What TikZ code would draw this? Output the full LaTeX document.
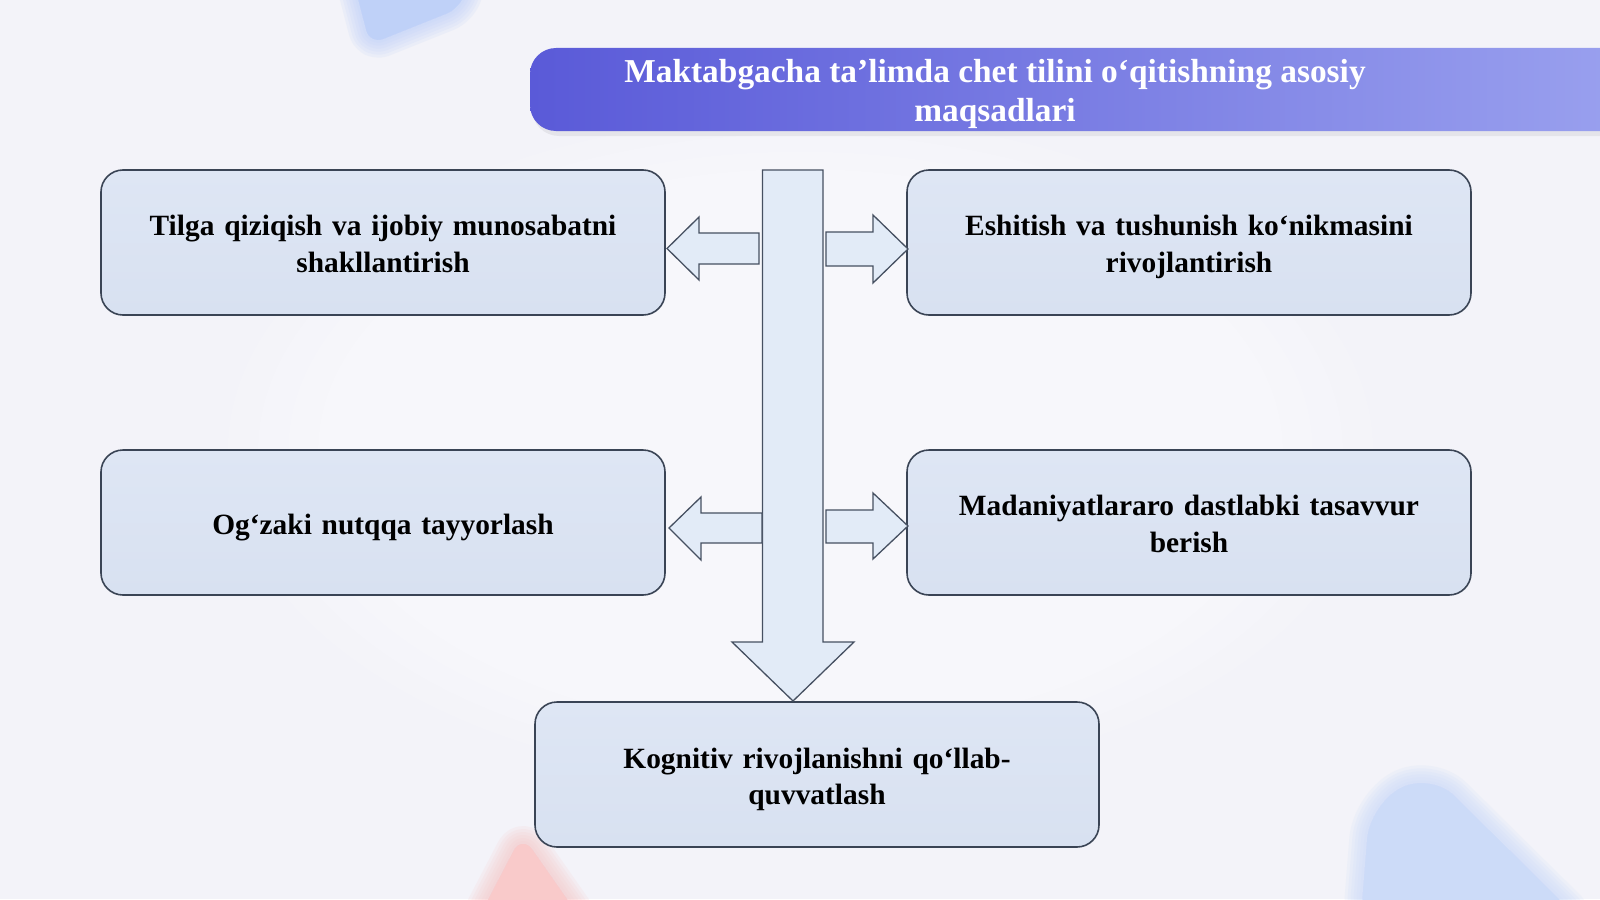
\documentclass[tikz,border=0pt]{standalone}
\usepackage{fontspec}
\setmainfont{Liberation Serif}
\usetikzlibrary{fadings}
\definecolor{bg}{HTML}{F3F3F9}
\definecolor{bgmid}{HTML}{F7F7FB}
\definecolor{titleL}{HTML}{5A5AD8}
\definecolor{titleR}{HTML}{9BA2EF}
\definecolor{boxtop}{HTML}{DEE6F4}
\definecolor{boxbot}{HTML}{D8E1F1}
\definecolor{boxline}{HTML}{3A4455}
\definecolor{arrfill}{HTML}{E2EBF7}
\definecolor{arrline}{HTML}{465061}
\definecolor{blobblue}{HTML}{BFD1F8}
\definecolor{blobpink}{HTML}{F9CACA}
\definecolor{blobblue2}{HTML}{CCDBF8}
\tikzset{
  goalbox/.style={draw=boxline, line width=1.6pt, rounded corners=22pt,
    top color=boxtop, bottom color=boxbot,
    minimum width=564pt, minimum height=145pt, inner sep=0pt,
    text width=540pt, align=center,
    font=\fontsize{29.4}{36.7}\selectfont\bfseries, text=black},
  goaltext/.style={text width=540pt, align=center, inner sep=0pt, yshift=-4.5pt,
    font=\fontsize{29.4}{36.7}\selectfont\bfseries, text=black},
  blockarrow/.style={draw=arrline, line width=1.3pt, fill=arrfill, line join=miter},
}
\newcommand{\softblob}[2]{%
  \foreach \w in {36,30,24,18,12,6}{\filldraw[#1, opacity=0.16, line width=\w pt, line join=round] #2;}
  \fill[#1] #2;}
\begin{document}
\begin{tikzpicture}[x=1pt,y=-1pt]
\useasboundingbox (0,0) rectangle (1600,899);
\clip (0,0) rectangle (1600,899);
% background
\fill[bg] (0,0) rectangle (1600,899);
\fill[bgmid, path fading=circle with fuzzy edge 20 percent] (200,100) rectangle (1400,800);
% blobs
\softblob{blobblue}{[rounded corners=14pt] (352,-25) -- (470,-25) -- (460,8) -- (370,44) -- cycle}
\softblob{blobpink}{[rounded corners=18pt] (475,925) -- (522,835) -- (585,925) -- cycle}
\softblob{blobblue2}{[rounded corners=34pt] (1360,930) -- (1370,805) -- (1430,772) -- (1590,930) -- cycle}
% title bar
\fill[black, opacity=0.06, rounded corners=27pt] (532,52) rectangle (1650,136);
\shade[left color=titleL, right color=titleR, rounded corners=26pt] (530,48) rectangle (1650,131);
\node[font=\fontsize{33.4}{39}\selectfont\bfseries, text=white, align=center] (title) at (995,93.5)
  {Maktabgacha ta’limda chet tilini o‘qitishning asosiy\\maqsadlari};
% boxes
\node[goalbox] (b1) at (383,242.5) {};
\node[goalbox] (b2) at (1189,242.5) {};
\node[goalbox] (b3) at (383,522.5) {};
\node[goalbox] (b4) at (1189,522.5) {};
\node[goalbox] (b5) at (817,774.5) {};
\node[goaltext] (t1) at (b1.center) {\strut Tilga qiziqish va ijobiy munosabatni\\\strut shakllantirish};
\node[goaltext] (t2) at (b2.center) {\strut Eshitish va tushunish ko‘nikmasini\\\strut rivojlantirish};
\node[goaltext] (t3) at (b3.center) {\strut Og‘zaki nutqqa tayyorlash};
\node[goaltext] (t4) at (b4.center) {\strut Madaniyatlararo dastlabki tasavvur\\\strut berish};
\node[goaltext] (t5) at (b5.center) {\strut Kognitiv rivojlanishni qo‘llab-\\\strut quvvatlash};
% vertical arrow
\draw[blockarrow] (762.5,170) -- (823,170) -- (823,642) -- (854,642) -- (793,701) -- (732,642) -- (762.5,642) -- cycle;
% side arrows
\draw[blockarrow] (759,233) -- (699,233) -- (699,217) -- (667,248.5) -- (699,280) -- (699,264) -- (759,264) -- cycle;
\draw[blockarrow] (826,232) -- (873,232) -- (873,215) -- (908,249) -- (873,283) -- (873,266) -- (826,266) -- cycle;
\draw[blockarrow] (762,513) -- (701,513) -- (701,497) -- (669,528) -- (701,560) -- (701,543) -- (762,543) -- cycle;
\draw[blockarrow] (826,510) -- (873,510) -- (873,493) -- (908,526) -- (873,559) -- (873,543) -- (826,543) -- cycle;
\end{tikzpicture}
\end{document}
